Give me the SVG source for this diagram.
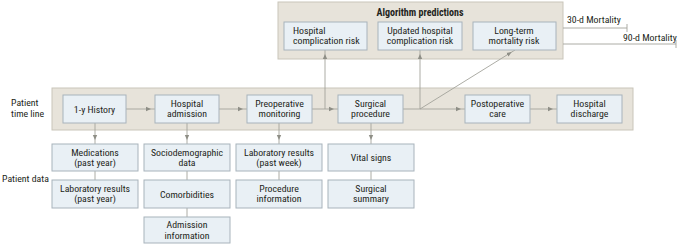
<svg xmlns="http://www.w3.org/2000/svg" width="680" height="245" viewBox="0 0 680 245">
<defs>
<marker id="ah" viewBox="0 0 6 6" refX="9" refY="3" markerWidth="6" markerHeight="6" orient="auto" markerUnits="userSpaceOnUse">
<path d="M0,0.8 L5,3 L0,5.2 Z" fill="#8e8e86"/>
</marker>
<style>
.band{fill:#e7e3da;stroke:#c9c5ba;stroke-width:1}
.box{fill:#e9f0f5;stroke:#a8b3bb;stroke-width:1}
.t{font-family:"Liberation Sans Narrow","Roboto Condensed","DejaVu Sans Condensed",sans-serif;font-size:9.8px;fill:#231f20;text-anchor:middle}
.lab{font-family:"Liberation Sans Narrow","Roboto Condensed","DejaVu Sans Condensed",sans-serif;font-size:9.8px;fill:#231f20}
.ttl{font-family:"Liberation Sans Narrow","Roboto Condensed","DejaVu Sans Condensed",sans-serif;font-size:10px;font-weight:bold;fill:#231f20;text-anchor:middle}
.c{fill:none;stroke:#a3a39b;stroke-width:0.9}
</style>
</defs>
<rect width="680" height="245" fill="#ffffff"/>

<!-- labels -->
<text class="lab" x="11" y="106">Patient</text>
<text class="lab" x="11" y="117">time line</text>
<text class="lab" x="2" y="182">Patient data</text>

<!-- bands -->
<g id="algorithm-predictions">
<rect class="band" x="278" y="2" width="285" height="57"/>
<text class="ttl" x="420" y="16">Algorithm predictions</text>
</g>
<g id="timeline-band">
<rect class="band" x="52" y="88" width="581" height="42"/>
</g>

<!-- connectors -->
<g id="connectors">
<path class="c" d="M126,109 L155,109" marker-end="url(#ah)"/>
<path class="c" d="M219,109 L247,109" marker-end="url(#ah)"/>
<path class="c" d="M312,109 L338,109" marker-end="url(#ah)"/>
<path class="c" d="M403,109 L465,109" marker-end="url(#ah)"/>
<path class="c" d="M530,109 L557,109" marker-end="url(#ah)"/>
<path class="c" d="M325,109 L325,50" marker-end="url(#ah)"/>
<path class="c" d="M420,109 L420,50" marker-end="url(#ah)"/>
<path class="c" d="M420,109 L515,50" marker-end="url(#ah)"/>
<path class="c" d="M95,123 L95,144" marker-end="url(#ah)"/>
<path class="c" d="M187,123 L187,144" marker-end="url(#ah)"/>
<path class="c" d="M279,123 L279,144" marker-end="url(#ah)"/>
<path class="c" d="M371,123 L371,144" marker-end="url(#ah)"/>
<path class="c" d="M95,171 L95,180"/>
<path class="c" d="M187,171 L187,180"/>
<path class="c" d="M187,208 L187,217"/>
<path class="c" d="M279,171 L279,180"/>
<path class="c" d="M371,171 L371,180"/>
<path class="c" d="M563,28 L627,28 M627,24 L627,32"/>
<path class="c" d="M563,44 L676,44 M676,40 L676,48"/>
</g>
<text class="lab" x="567" y="23">30-d Mortality</text>
<text class="lab" x="623" y="41">90-d Mortality</text>

<!-- prediction boxes -->
<g id="hospital-complication-risk">
<rect class="box" x="284" y="22" width="83" height="28"/>
<text class="lab" x="293" y="33.5">Hospital</text>
<text class="lab" x="293" y="44">complication risk</text>
</g>
<g id="updated-hospital-complication-risk">
<rect class="box" x="378" y="22" width="84" height="28"/>
<text class="t" x="420" y="33.5">Updated hospital</text>
<text class="t" x="420" y="44">complication risk</text>
</g>
<g id="long-term-mortality-risk">
<rect class="box" x="473" y="22" width="83" height="28"/>
<text class="t" x="514" y="33.5">Long-term</text>
<text class="t" x="514" y="44">mortality risk</text>
</g>

<!-- timeline boxes -->
<g id="history">
<rect class="box" x="63" y="95" width="63" height="28"/>
<text class="t" x="94.5" y="112.5">1-y History</text>
</g>
<g id="hospital-admission">
<rect class="box" x="155" y="95" width="64" height="28"/>
<text class="t" x="187" y="106.5">Hospital</text>
<text class="t" x="187" y="117">admission</text>
</g>
<g id="preoperative-monitoring">
<rect class="box" x="247" y="95" width="65" height="28"/>
<text class="t" x="279.5" y="106.5">Preoperative</text>
<text class="t" x="279.5" y="117">monitoring</text>
</g>
<g id="surgical-procedure">
<rect class="box" x="338" y="95" width="65" height="28"/>
<text class="t" x="370.5" y="106.5">Surgical</text>
<text class="t" x="370.5" y="117">procedure</text>
</g>
<g id="postoperative-care">
<rect class="box" x="465" y="95" width="65" height="28"/>
<text class="t" x="497.5" y="106.5">Postoperative</text>
<text class="t" x="497.5" y="117">care</text>
</g>
<g id="hospital-discharge">
<rect class="box" x="557" y="95" width="65" height="28"/>
<text class="t" x="589.5" y="106.5">Hospital</text>
<text class="t" x="589.5" y="117">discharge</text>
</g>

<!-- patient data boxes -->
<g id="medications">
<rect class="box" x="52" y="144" width="86" height="27"/>
<text class="t" x="95" y="155.5">Medications</text>
<text class="t" x="95" y="166">(past year)</text>
</g>
<g id="lab-past-year">
<rect class="box" x="52" y="180" width="86" height="28"/>
<text class="t" x="95" y="191.5">Laboratory results</text>
<text class="t" x="95" y="202">(past year)</text>
</g>
<g id="sociodemographic">
<rect class="box" x="144" y="144" width="86" height="27"/>
<text class="t" x="187" y="155.5">Sociodemographic</text>
<text class="t" x="187" y="166">data</text>
</g>
<g id="comorbidities">
<rect class="box" x="144" y="180" width="86" height="28"/>
<text class="t" x="187" y="197.5">Comorbidities</text>
</g>
<g id="admission-information">
<rect class="box" x="144" y="217" width="86" height="26"/>
<text class="t" x="187" y="228">Admission</text>
<text class="t" x="187" y="238.5">information</text>
</g>
<g id="lab-past-week">
<rect class="box" x="236" y="144" width="86" height="27"/>
<text class="t" x="279" y="155.5">Laboratory results</text>
<text class="t" x="279" y="166">(past week)</text>
</g>
<g id="procedure-information">
<rect class="box" x="236" y="180" width="86" height="28"/>
<text class="t" x="279" y="191.5">Procedure</text>
<text class="t" x="279" y="202">information</text>
</g>
<g id="vital-signs">
<rect class="box" x="328" y="144" width="86" height="27"/>
<text class="t" x="371" y="161">Vital signs</text>
</g>
<g id="surgical-summary">
<rect class="box" x="328" y="180" width="86" height="28"/>
<text class="t" x="371" y="191.5">Surgical</text>
<text class="t" x="371" y="202">summary</text>
</g>
</svg>
